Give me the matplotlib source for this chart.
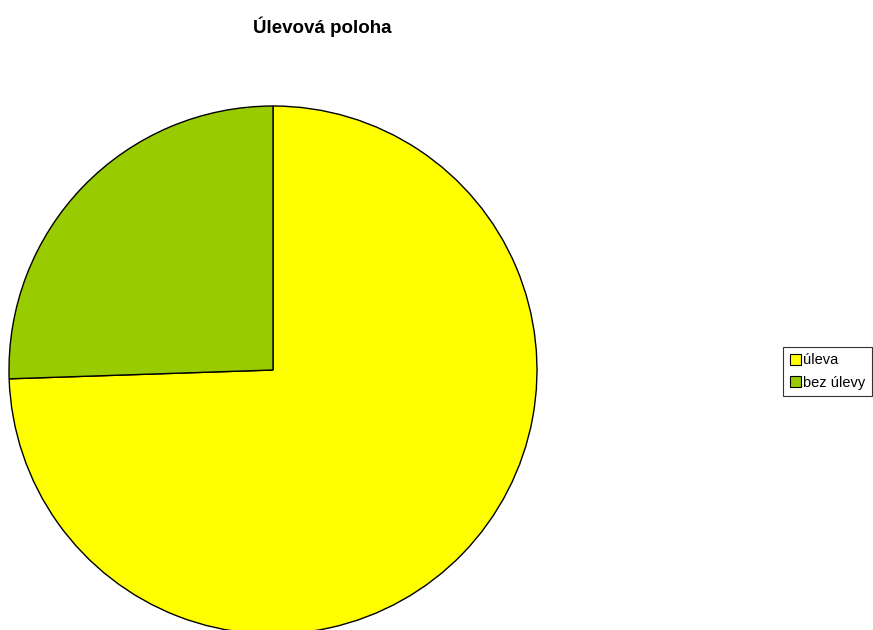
import matplotlib
matplotlib.use("Agg")
import matplotlib.pyplot as plt

plt.rcParams['font.family'] = ['Liberation Sans', 'DejaVu Sans']

labels = ['úleva', 'bez úlevy']
values = [35, 12]
colors = ['#FFFF00', '#99CC00']

W, H = 873, 630
fig = plt.figure(figsize=(W / 100, H / 100), dpi=100)

# pie area: centre (273, 370) px, radius 264 px
cx, cy, r = 273, 370, 264
ax = fig.add_axes([(cx - r) / W, (H - cy - r) / H, 2 * r / W, 2 * r / H])
wedges, _ = ax.pie(values, colors=colors, startangle=90, counterclock=False,
                   radius=1.0, wedgeprops=dict(edgecolor='black', linewidth=1.0))
ax.set_xlim(-1.0, 1.0)
ax.set_ylim(-1.0, 1.0)
ax.set_aspect('equal')
ax.axis('off')

fig.text(322 / W, 1 - 27 / H, 'Úlevová poloha', ha='center', va='center',
         fontsize=13.5, fontweight='bold')

leg = fig.legend(wedges, labels, loc='center left',
                 bbox_to_anchor=(783 / W, 1 - 371.5 / H), fontsize=10.5,
                 frameon=True, fancybox=False, edgecolor='black',
                 handlelength=0.75, handleheight=0.75, handletextpad=0.2,
                 borderpad=0.45, labelspacing=0.55, borderaxespad=0)
leg.get_frame().set_linewidth(0.8)
for h in leg.legend_handles:
    h.set_edgecolor('black')
    h.set_linewidth(0.8)

fig.savefig('out.png', dpi=100)
